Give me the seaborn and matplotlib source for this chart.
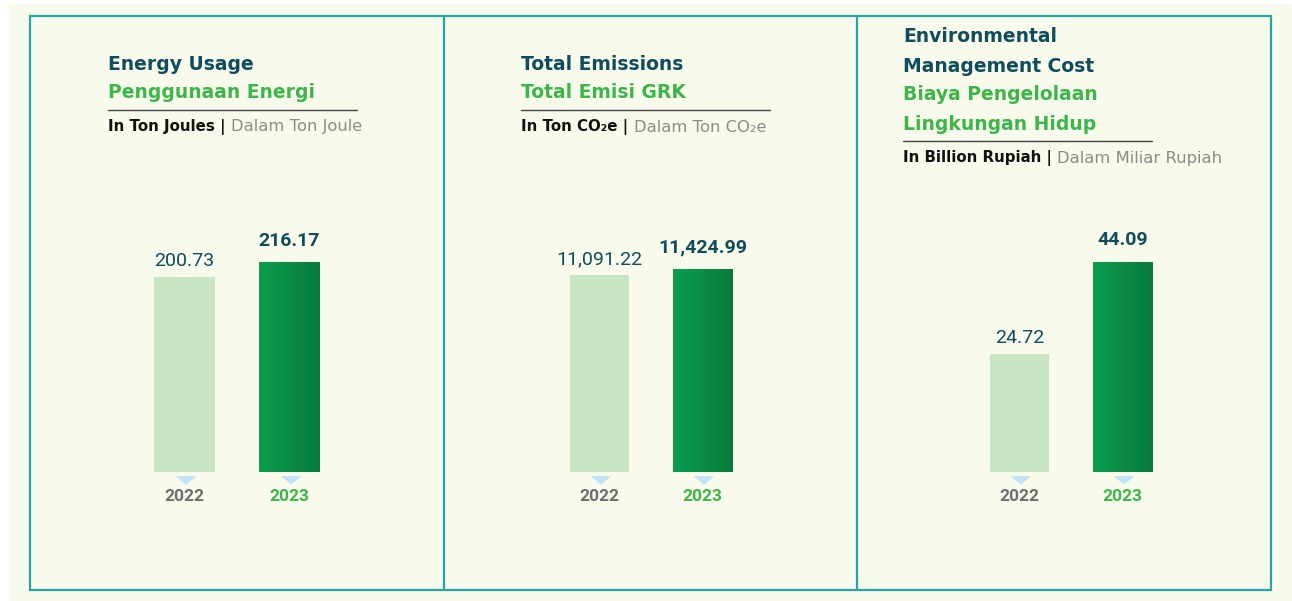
import numpy as np
import pandas as pd
import matplotlib
matplotlib.use("Agg")
import matplotlib.pyplot as plt
import seaborn as sns
from matplotlib.patches import Rectangle
from matplotlib.lines import Line2D

# data
years = ["2022", "2023"]
energy = [200.73, 216.17]
emissions = [11091.22, 11424.99]
env_cost = [24.72, 44.09]

titles_en = [["Energy Usage"], ["Total Emissions"], ["Environmental", "Management Cost"]]
titles_id = [["Penggunaan Energi"], ["Total Emisi GRK"], ["Biaya Pengelolaan", "Lingkungan Hidup"]]
units_en = ["In Ton Joules |", "In Ton CO\u2082e |", "In Billion Rupiah |"]
units_id = ["Dalam Ton Joule", "Dalam Ton CO\u2082e", "Dalam Miliar Rupiah"]

series = [energy, emissions, env_cost]

# layout (pixels of a 1292x601 canvas)
W, H = 1292, 601
def fx(x): return x / W
def fy(y): return 1 - y / H

panel_center = [237, 651, 1071]
panel_step = [105, 103, 103]
text_x = [108, 521, 903]
title_top = [64, 64, 37]
ylim_top = [280, 15300, 57.0]

DARK = "#0f4c5c"
GREEN = "#3db54a"
LIGHT = "#c8e4c3"
TEAL = "#2aa3a6"
FONT = ["Roboto", "DejaVu Sans"]
HEAD = ["DejaVu Sans"]

sns.set_theme(style="white")
plt.rcParams["font.family"] = FONT

fig = plt.figure(figsize=(W / 100, H / 100), dpi=100, facecolor="white")

# cream background + frame
fig.patches.append(Rectangle((fx(9), 0), 1, fy(4), transform=fig.transFigure,
                             facecolor="#f8faec", edgecolor="none", zorder=-5))
fig.patches.append(Rectangle((fx(30), fy(590)), fx(1271) - fx(30), fy(16) - fy(590),
                             transform=fig.transFigure, facecolor="none",
                             edgecolor=TEAL, lw=1.6, zorder=1))
for xd in [444, 857]:
    fig.lines.append(Line2D([fx(xd), fx(xd)], [fy(16), fy(590)], transform=fig.transFigure,
                            color=TEAL, lw=1.6, zorder=1))

cmap = matplotlib.colors.LinearSegmentedColormap.from_list("g", ["#0a9e4c", "#097a3d"])
tri = [(-1, 0.4), (1, 0.4), (0, -0.4)]

for p in range(3):
    df = pd.DataFrame({"year": years, "value": series[p]})
    step = panel_step[p]
    left = panel_center[p] - step
    ax = fig.add_axes([fx(left), fy(472), fx(2 * step), fy(200) - fy(472)])
    ax.set_facecolor("none")
    sns.barplot(data=df, x="year", y="value", hue="year", palette=[LIGHT, "#0a8f45"],
                width=0.58, legend=False, ax=ax, saturation=1, linewidth=0, edgecolor="none")
    sns.despine(ax=ax, left=True, bottom=True)
    ax.set_yticks([])
    ax.set_xlabel("")
    ax.set_ylabel("")
    ax.tick_params(axis="x", length=0, pad=12)
    for lab, col in zip(ax.get_xticklabels(), ["#6d6e71", GREEN]):
        lab.set_color(col)
        lab.set_fontweight("bold")
        lab.set_fontsize(12.5)

    # gradient on the 2023 bar
    b = sorted(ax.patches, key=lambda r: r.get_x())[1]
    grad = np.linspace(0, 1, 256).reshape(1, -1)
    im = ax.imshow(grad, cmap=cmap, aspect="auto", zorder=3,
                   extent=[b.get_x(), b.get_x() + b.get_width(), 0, b.get_height()])
    im.set_clip_path(b)
    ax.set_xlim(-0.5, 1.5)
    ax.set_ylim(0, ylim_top[p])

    # small pointers under the bars
    ax.plot([0, 1], [0, 0], ls="none", marker=tri, ms=13, color="#bfe4f6",
            clip_on=False, zorder=4,
            transform=ax.transData + matplotlib.transforms.ScaledTranslation(0, -8 / 100, fig.dpi_scale_trans))

    # value labels
    for i, v in enumerate(series[p]):
        bold = i == 1
        ax.annotate(f"{v:,.2f}", (i, v), xytext=(0, 9 if bold else 5), textcoords="offset points",
                    ha="center", va="bottom", fontsize=14, color=DARK,
                    fontweight="bold" if bold else "normal")

    # headings
    y = title_top[p]
    for line in titles_en[p]:
        fig.text(fx(text_x[p]), fy(y), line, fontsize=13.5, fontweight="bold", color=DARK,
                 va="center", family=HEAD)
        y += 29
    for line in titles_id[p]:
        fig.text(fx(text_x[p]), fy(y), line, fontsize=13.5, fontweight="bold", color=GREEN,
                 va="center", family=HEAD)
        y += 29
    yl = y - 12
    fig.lines.append(Line2D([fx(text_x[p]), fx(text_x[p] + 249)], [fy(yl), fy(yl)],
                            transform=fig.transFigure, color="#444444", lw=1))
    t = fig.text(fx(text_x[p]), fy(yl + 17), units_en[p], fontsize=10.8, fontweight="bold",
                 color="#111111", va="center", family=HEAD)
    ax.annotate(units_id[p], xy=(1, 0.5), xycoords=t, xytext=(4, 0), textcoords="offset points",
                va="center", ha="left", fontsize=11.8, color="#8c8c8c", annotation_clip=False,
                family=HEAD)

fig.savefig("out.png", dpi=100, facecolor="white")
